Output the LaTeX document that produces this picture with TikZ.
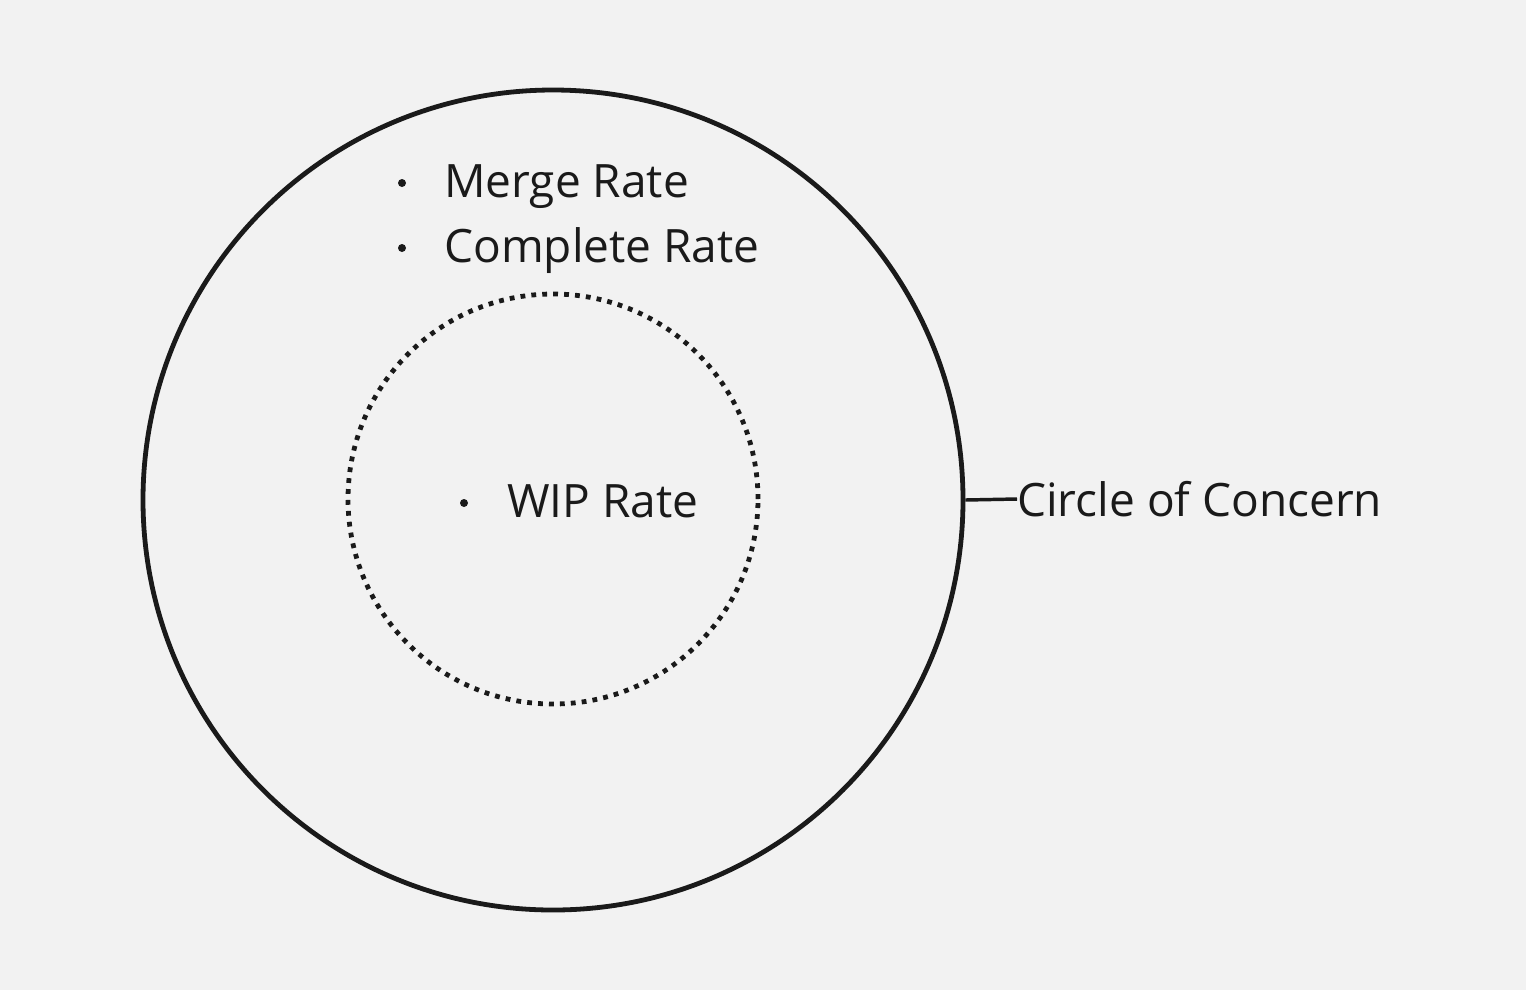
\documentclass[tikz,border=0pt]{standalone}
\usepackage{fontspec}
\setmainfont{Open Sans}
\definecolor{bg}{HTML}{F2F2F2}
\definecolor{ink}{HTML}{1A1A1A}
\tikzset{
  lbl/.style={anchor=base west, inner sep=0pt, text=ink, font=\fontsize{34.5pt}{40pt}\selectfont},
  bul/.style={circle, fill=ink, inner sep=0pt, minimum size=6pt},
  ring/.style={draw=ink, line width=3.6pt},
  dotring/.style={draw=ink, line width=3.6pt, dash pattern=on 3.6pt off 4.6pt},
}
\begin{document}
\begin{tikzpicture}[x=0.75pt,y=-0.75pt]
\useasboundingbox[fill=bg] (0,0) rectangle (1526,990);
\node[circle, ring, minimum size=615pt, inner sep=0pt] (outer) at (553,500) {};
\node[circle, dotring, minimum size=307.5pt, inner sep=0pt] (inner) at (553,499) {};
\node[bul] (b1) at (402,183) {};
\node[lbl] (t1) at (444,197) {Merge Rate};
\node[bul] (b2) at (402,248) {};
\node[lbl] (t2) at (444,262) {Complete Rate};
\node[bul] (b3) at (464,503) {};
\node[lbl] (t3) at (507,517) {WIP Rate};
\node[lbl, anchor=west] (coc) at (1017,499) {Circle of Concern};
\draw[draw=ink, line width=2.6pt] (outer.east) -- (coc.west);
\end{tikzpicture}
\end{document}
